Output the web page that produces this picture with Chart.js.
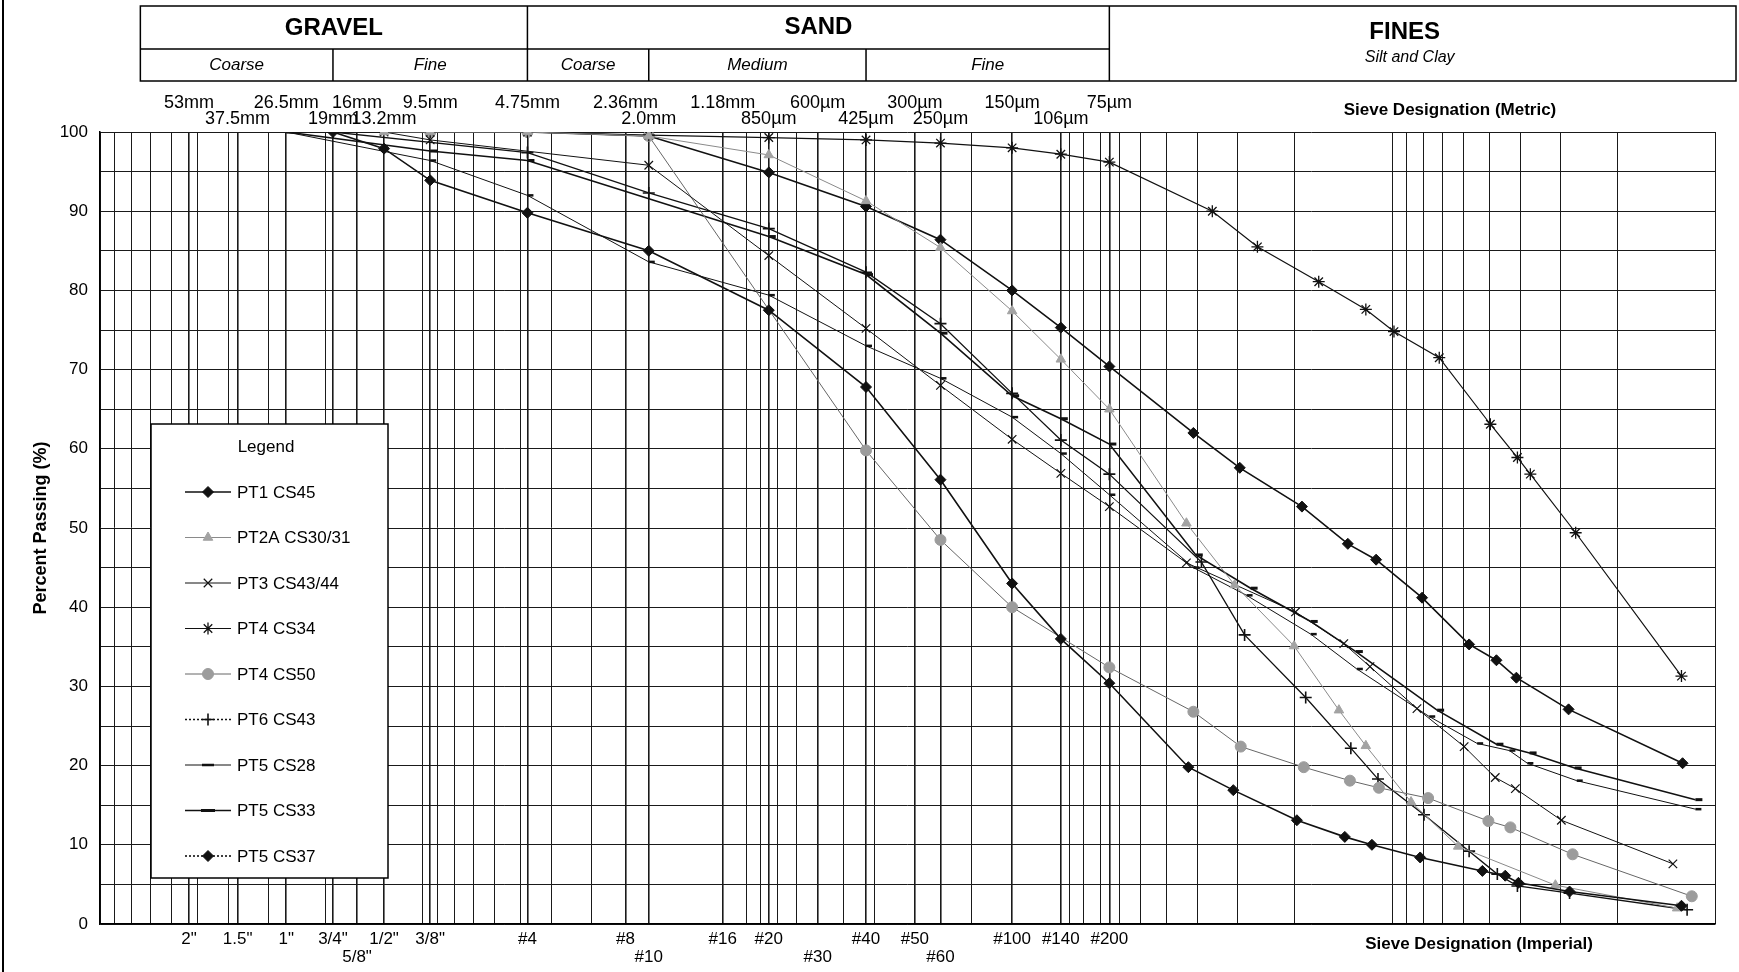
<!DOCTYPE html>
<html>
<head>
<meta charset="utf-8">
<script src="https://cdn.jsdelivr.net/npm/chart.js@4.4.1/dist/chart.umd.min.js"></script>
<style>
html,body{margin:0;padding:0;background:#fff;}
#wrap{position:relative;width:1739px;height:972px;}
canvas{display:block;}
</style>
</head>
<body>
<div id="wrap"><canvas id="c" width="1739" height="972"></canvas></div>
<script>
// ---------------- DATA (grain size in mm, percent passing) ----------------
const seriesNames = ['PT1 CS45','PT2A CS30/31','PT3 CS43/44','PT4 CS34','PT4 CS50','PT6 CS43','PT5 CS28','PT5 CS33','PT5 CS37'];

const pt1Size  = [19, 13.2, 9.5, 4.75, 2.0, 0.85, 0.425, 0.25, 0.15, 0.106, 0.075, 0.0427, 0.0310, 0.0197, 0.0140, 0.01154, 0.00818, 0.00525, 0.00446, 0.00406, 0.00282, 0.00127];
const pt1Pass  = [100, 97.9, 93.9, 89.8, 85.0, 77.5, 67.8, 56.1, 43.0, 36.0, 30.4, 19.8, 16.9, 13.1, 11.0, 10.0, 8.4, 6.7, 6.1, 5.2, 4.1, 2.3];

const pt2aSize = [13.2, 9.5, 4.75, 2.0, 0.85, 0.425, 0.25, 0.15, 0.106, 0.075, 0.0433, 0.0307, 0.0201, 0.0146, 0.01205, 0.00873, 0.00624, 0.00312, 0.00131];
const pt2aPass = [100, 100, 100, 99.5, 97.1, 91.3, 85.4, 77.4, 71.3, 65.0, 50.6, 42.8, 35.1, 27.0, 22.5, 15.4, 9.8, 4.9, 2.0];

const pt3Size  = [13.2, 9.5, 2.0, 0.85, 0.425, 0.25, 0.15, 0.106, 0.075, 0.0433, 0.0199, 0.0141, 0.0117, 0.00837, 0.00598, 0.00479, 0.00415, 0.00299, 0.00135];
const pt3Pass  = [100, 99.0, 95.8, 84.4, 75.2, 68.0, 61.2, 56.9, 52.7, 45.6, 39.4, 35.4, 32.5, 27.2, 22.4, 18.5, 17.1, 13.1, 7.6];

const pt4aSize = [9.5, 4.75, 2.0, 0.85, 0.425, 0.25, 0.15, 0.106, 0.075, 0.0360, 0.0261, 0.01686, 0.01205, 0.00986, 0.00714, 0.00496, 0.00409, 0.00373, 0.00270, 0.00127];
const pt4aPass = [100, 100, 99.6, 99.3, 99.0, 98.6, 98.0, 97.2, 96.2, 90.0, 85.5, 81.1, 77.6, 74.8, 71.5, 63.1, 58.9, 56.8, 49.4, 31.3];

const pt4bSize = [9.5, 4.75, 2.0, 0.425, 0.25, 0.15, 0.075, 0.0412, 0.0294, 0.01876, 0.0135, 0.01098, 0.00773, 0.00503, 0.00430, 0.00276, 0.00118];
const pt4bPass = [100, 100, 99.5, 59.8, 48.5, 40.0, 32.4, 26.8, 22.4, 19.8, 18.1, 17.2, 15.9, 13.0, 12.2, 8.8, 3.5];

const pt6Size  = [19, 4.75, 2.0, 0.85, 0.425, 0.25, 0.15, 0.106, 0.075, 0.0389, 0.0286, 0.0185, 0.01341, 0.01105, 0.00796, 0.00577, 0.00472, 0.00409, 0.00282, 0.00122];
const pt6Pass  = [100, 97.4, 92.3, 87.8, 82.3, 75.8, 67.0, 61.1, 56.8, 45.7, 36.5, 28.6, 22.2, 18.3, 13.8, 9.2, 6.3, 4.8, 3.9, 1.8];

const pt5aSize = [26.5, 9.5, 4.75, 2.0, 0.85, 0.425, 0.25, 0.15, 0.106, 0.075, 0.0412, 0.0282, 0.01785, 0.01285, 0.00767, 0.00545, 0.00433, 0.00381, 0.00268, 0.00115];
const pt5aPass = [100, 96.4, 92.0, 83.6, 79.4, 73.0, 68.9, 64.0, 59.4, 54.2, 45.0, 41.5, 36.6, 32.2, 26.2, 22.8, 21.9, 20.3, 18.1, 14.5];

const pt5bSize = [26.5, 9.5, 4.75, 0.85, 0.425, 0.25, 0.15, 0.106, 0.075, 0.0405, 0.0274, 0.01785, 0.01294, 0.00725, 0.00475, 0.00375, 0.00272, 0.00115];
const pt5bPass = [100, 97.6, 96.4, 86.8, 82.0, 74.6, 66.7, 63.8, 60.6, 46.6, 42.4, 38.2, 34.4, 27.0, 22.7, 21.6, 19.7, 15.7];

const pt5cSize = [9.5, 4.75, 2.0, 0.85, 0.425, 0.25, 0.15, 0.106, 0.075, 0.0412, 0.0296, 0.0190, 0.0137, 0.0112, 0.00807, 0.00577, 0.00475, 0.00412, 0.00284, 0.00126];
const pt5cPass = [100, 100, 99.5, 94.9, 90.6, 86.4, 80.0, 75.3, 70.4, 62.0, 57.6, 52.7, 48.0, 46.0, 41.2, 35.3, 33.3, 31.1, 27.1, 20.3];

// sieve sizes (mm) and labels
const sieveSizes = [53, 37.5, 26.5, 19, 16, 13.2, 9.5, 4.75, 2.36, 2.0, 1.18, 0.85, 0.6, 0.425, 0.3, 0.25, 0.15, 0.106, 0.075];
const metricTopSizes  = [53, 26.5, 16, 9.5, 4.75, 2.36, 1.18, 0.6, 0.3, 0.15, 0.075];
const metricTopLabels = ['53mm','26.5mm','16mm','9.5mm','4.75mm','2.36mm','1.18mm','600µm','300µm','150µm','75µm'];
const metricLowSizes  = [37.5, 19, 13.2, 2.0, 0.85, 0.425, 0.25, 0.106];
const metricLowLabels = ['37.5mm','19mm','13.2mm','2.0mm','850µm','425µm','250µm','106µm'];
const impTopSizes  = [53, 37.5, 26.5, 19, 13.2, 9.5, 4.75, 2.36, 1.18, 0.85, 0.425, 0.3, 0.15, 0.106, 0.075];
const impTopLabels = ['2"','1.5"','1"','3/4"','1/2"','3/8"','#4','#8','#16','#20','#40','#50','#100','#140','#200'];
const impLowSizes  = [16, 2.0, 0.6, 0.25];
const impLowLabels = ['5/8"','#10','#30','#60'];

// soil classification header
const classBounds = [75, 19, 4.75, 2.0, 0.425, 0.075];
const groupLabels = ['GRAVEL','SAND','FINES'];
const subLabels = ['Coarse','Fine','Coarse','Medium','Fine'];
const finesSub = 'Silt and Clay';

const yTicks = [0,5,10,15,20,25,30,35,40,45,50,55,60,65,70,75,80,85,90,95,100];

// ---------------- build ----------------
const FONT = "'Liberation Sans', Arial, Helvetica, sans-serif";
const BLACK = '#111';

const gridValues = (() => {
  const s = new Set();
  for (let e = -3; e <= 1; e++) for (let m = 1; m <= 9; m++) s.add(Number((m * Math.pow(10, e)).toPrecision(6)));
  s.add(100);
  sieveSizes.forEach(v => s.add(v));
  return Array.from(s).sort((a, b) => a - b);
})();
const sieveSet = new Set(sieveSizes);

function pts(sz, ps) { return sz.map((s, i) => ({x: s, y: ps[i]})); }

const styles = [
  {borderColor: BLACK, borderWidth: 1.6, pointStyle: 'rectRot', pointRadius: 5.5, pointBackgroundColor: BLACK, pointBorderColor: BLACK, pointBorderWidth: 1, legendDash: []},
  {borderColor: '#8a8a8a', borderWidth: 1, pointStyle: 'triangle', pointRadius: 5.5, pointBackgroundColor: '#a3a3a3', pointBorderColor: '#a3a3a3', pointBorderWidth: 1, legendDash: []},
  {borderColor: BLACK, borderWidth: 1, pointStyle: 'crossRot', pointRadius: 6, pointBackgroundColor: BLACK, pointBorderColor: BLACK, pointBorderWidth: 1.2, legendDash: []},
  {borderColor: BLACK, borderWidth: 1.2, pointStyle: 'star', pointRadius: 6, pointBackgroundColor: BLACK, pointBorderColor: BLACK, pointBorderWidth: 1.3, legendDash: []},
  {borderColor: '#666', borderWidth: 1, pointStyle: 'circle', pointRadius: 5.5, pointBackgroundColor: '#9c9c9c', pointBorderColor: '#9c9c9c', pointBorderWidth: 1, legendDash: []},
  {borderColor: BLACK, borderWidth: 1.3, pointStyle: 'cross', pointRadius: 6, pointBackgroundColor: BLACK, pointBorderColor: BLACK, pointBorderWidth: 1.6, legendDash: [2, 2]},
  {borderColor: BLACK, borderWidth: 1, pointStyle: 'dash', pointRadius: 6, pointBackgroundColor: BLACK, pointBorderColor: BLACK, pointBorderWidth: 2.5, legendDash: []},
  {borderColor: BLACK, borderWidth: 1.6, pointStyle: 'dash', pointRadius: 7, pointBackgroundColor: BLACK, pointBorderColor: BLACK, pointBorderWidth: 3, legendDash: []},
  {borderColor: BLACK, borderWidth: 1.6, pointStyle: 'rectRot', pointRadius: 5.5, pointBackgroundColor: BLACK, pointBorderColor: BLACK, pointBorderWidth: 1, legendDash: [2, 2]}
];
const seriesData = [
  pts(pt1Size, pt1Pass), pts(pt2aSize, pt2aPass), pts(pt3Size, pt3Pass), pts(pt4aSize, pt4aPass),
  pts(pt4bSize, pt4bPass), pts(pt6Size, pt6Pass), pts(pt5aSize, pt5aPass), pts(pt5bSize, pt5bPass), pts(pt5cSize, pt5cPass)
];
const datasets = seriesNames.map((n, i) => Object.assign({
  label: n, data: seriesData[i], showLine: true, tension: 0, fill: false, pointHoverRadius: 6
}, styles[i]));

function drawMarker(ctx, st, x, y) {
  const r = st.pointRadius;
  ctx.save();
  ctx.fillStyle = st.pointBackgroundColor; ctx.strokeStyle = st.pointBorderColor; ctx.lineWidth = st.pointBorderWidth;
  ctx.setLineDash([]);
  ctx.beginPath();
  switch (st.pointStyle) {
    case 'rectRot': ctx.moveTo(x, y - r); ctx.lineTo(x + r, y); ctx.lineTo(x, y + r); ctx.lineTo(x - r, y); ctx.closePath(); ctx.fill(); ctx.stroke(); break;
    case 'triangle': ctx.moveTo(x, y - r); ctx.lineTo(x + r * 0.87, y + r * 0.5); ctx.lineTo(x - r * 0.87, y + r * 0.5); ctx.closePath(); ctx.fill(); ctx.stroke(); break;
    case 'circle': ctx.arc(x, y, r, 0, Math.PI * 2); ctx.fill(); ctx.stroke(); break;
    case 'cross': ctx.moveTo(x - r, y); ctx.lineTo(x + r, y); ctx.moveTo(x, y - r); ctx.lineTo(x, y + r); ctx.stroke(); break;
    case 'crossRot': { const d = r * 0.7071; ctx.moveTo(x - d, y - d); ctx.lineTo(x + d, y + d); ctx.moveTo(x - d, y + d); ctx.lineTo(x + d, y - d); ctx.stroke(); break; }
    case 'star': { const d = r * 0.7071; ctx.moveTo(x, y - r); ctx.lineTo(x, y + r); ctx.moveTo(x - d, y - d); ctx.lineTo(x + d, y + d); ctx.moveTo(x - d, y + d); ctx.lineTo(x + d, y - d); ctx.stroke(); break; }
    case 'dash': ctx.moveTo(x - r, y); ctx.lineTo(x + r, y); ctx.stroke(); break;
  }
  ctx.restore();
}

const decorPlugin = {
  id: 'decor',
  afterDatasetsDraw(chart) {
    const ctx = chart.ctx;
    // Legend box
    const bx = 151, by = 424, bw = 237, bh = 454;
    ctx.save();
    ctx.fillStyle = '#fff'; ctx.fillRect(bx, by, bw, bh);
    ctx.strokeStyle = '#000'; ctx.lineWidth = 1.5; ctx.strokeRect(bx, by, bw, bh);
    ctx.fillStyle = '#000'; ctx.font = '17px ' + FONT; ctx.textBaseline = 'middle'; ctx.textAlign = 'center';
    ctx.fillText('Legend', 266, 447);
    ctx.textAlign = 'left';
    chart.data.datasets.forEach((ds, i) => {
      const y = 492 + i * 45.5;
      ctx.save();
      ctx.strokeStyle = ds.borderColor; ctx.lineWidth = Math.max(1, ds.borderWidth);
      ctx.setLineDash(ds.legendDash || []);
      ctx.beginPath(); ctx.moveTo(185, y); ctx.lineTo(231, y); ctx.stroke();
      ctx.restore();
      drawMarker(ctx, ds, 208, y);
      ctx.fillStyle = '#000';
      ctx.fillText(ds.label, 237, y + 1);
    });
    ctx.restore();
  },
  afterDraw(chart) {
    const ctx = chart.ctx, xs = chart.scales.x;
    const px = v => xs.getPixelForValue(v);
    ctx.save();
    // left page border
    ctx.strokeStyle = '#000'; ctx.lineWidth = 2;
    ctx.beginPath(); ctx.moveTo(3, 0); ctx.lineTo(3, 972); ctx.stroke();

    // header table
    const b = classBounds.map(px);
    const L = b[0], R = 1736, T = 6, M = 49, B = 81;
    ctx.lineWidth = 1.5;
    ctx.strokeRect(L, T, R - L, B - T);
    ctx.beginPath();
    ctx.moveTo(L, M); ctx.lineTo(b[5], M);
    [2, 5].forEach(k => { ctx.moveTo(b[k], T); ctx.lineTo(b[k], B); });
    [1, 3, 4].forEach(k => { ctx.moveTo(b[k], M); ctx.lineTo(b[k], B); });
    ctx.stroke();
    ctx.fillStyle = '#000'; ctx.textAlign = 'center'; ctx.textBaseline = 'middle';
    ctx.font = 'bold 24px ' + FONT;
    ctx.fillText(groupLabels[0], (b[0] + b[2]) / 2, 28);
    ctx.fillText(groupLabels[1], (b[2] + b[5]) / 2, 27);
    ctx.fillText(groupLabels[2], (b[5] + 1700) / 2, 32);
    ctx.font = 'italic 17px ' + FONT;
    const subEdges = [b[0], b[1], b[2], b[3], b[4], b[5]];
    subLabels.forEach((t, i) => ctx.fillText(t, (subEdges[i] + subEdges[i + 1]) / 2, 65));
    ctx.font = 'italic 16px ' + FONT;
    ctx.fillText(finesSub, (b[5] + 1710) / 2, 58);

    // metric sieve labels
    ctx.font = '18px ' + FONT;
    metricTopSizes.forEach((s, i) => ctx.fillText(metricTopLabels[i], px(s), 103));
    metricLowSizes.forEach((s, i) => ctx.fillText(metricLowLabels[i], px(s), 119));
    ctx.font = 'bold 17px ' + FONT;
    ctx.fillText('Sieve Designation (Metric)', 1450, 110);

    // imperial sieve labels
    ctx.font = '17px ' + FONT;
    impTopSizes.forEach((s, i) => ctx.fillText(impTopLabels[i], px(s), 939));
    impLowSizes.forEach((s, i) => ctx.fillText(impLowLabels[i], px(s), 957));
    ctx.font = 'bold 17px ' + FONT;
    ctx.fillText('Sieve Designation (Imperial)', 1479, 944);
    ctx.restore();
  }
};

new Chart(document.getElementById('c'), {
  type: 'scatter',
  data: {datasets},
  options: {
    responsive: false,
    animation: false,
    devicePixelRatio: 1,
    layout: {padding: {top: 132, right: 24, left: 0, bottom: 0}},
    plugins: {legend: {display: false}, tooltip: {enabled: false}},
    scales: {
      x: {
        type: 'logarithmic', min: 0.001, max: 100, reverse: true,
        afterBuildTicks: s => { s.ticks = gridValues.map(v => ({value: v})); },
        afterFit: s => { s.height = 48; },
        ticks: {display: false},
        grid: {color: '#1a1a1a', lineWidth: c => (c.tick && sieveSet.has(c.tick.value)) ? 1.6 : 1, drawTicks: false},
        border: {display: true, color: '#000', width: 1.5}
      },
      y: {
        min: 0, max: 100,
        afterBuildTicks: s => { s.ticks = yTicks.map(v => ({value: v})); },
        afterFit: s => { s.width = 100; },
        ticks: {autoSkip: false, padding: 12, color: '#000', font: {family: FONT, size: 17},
          callback: v => (v % 10 === 0 ? String(v) : '')},
        grid: {color: '#1a1a1a', lineWidth: 1, drawTicks: false},
        border: {display: true, color: '#000', width: 1.5},
        title: {display: true, text: 'Percent Passing (%)', color: '#000', padding: {top: 30, bottom: 0},
          font: {family: FONT, size: 18, weight: 'bold'}}
      }
    }
  },
  plugins: [decorPlugin]
});
</script>
</body>
</html>
